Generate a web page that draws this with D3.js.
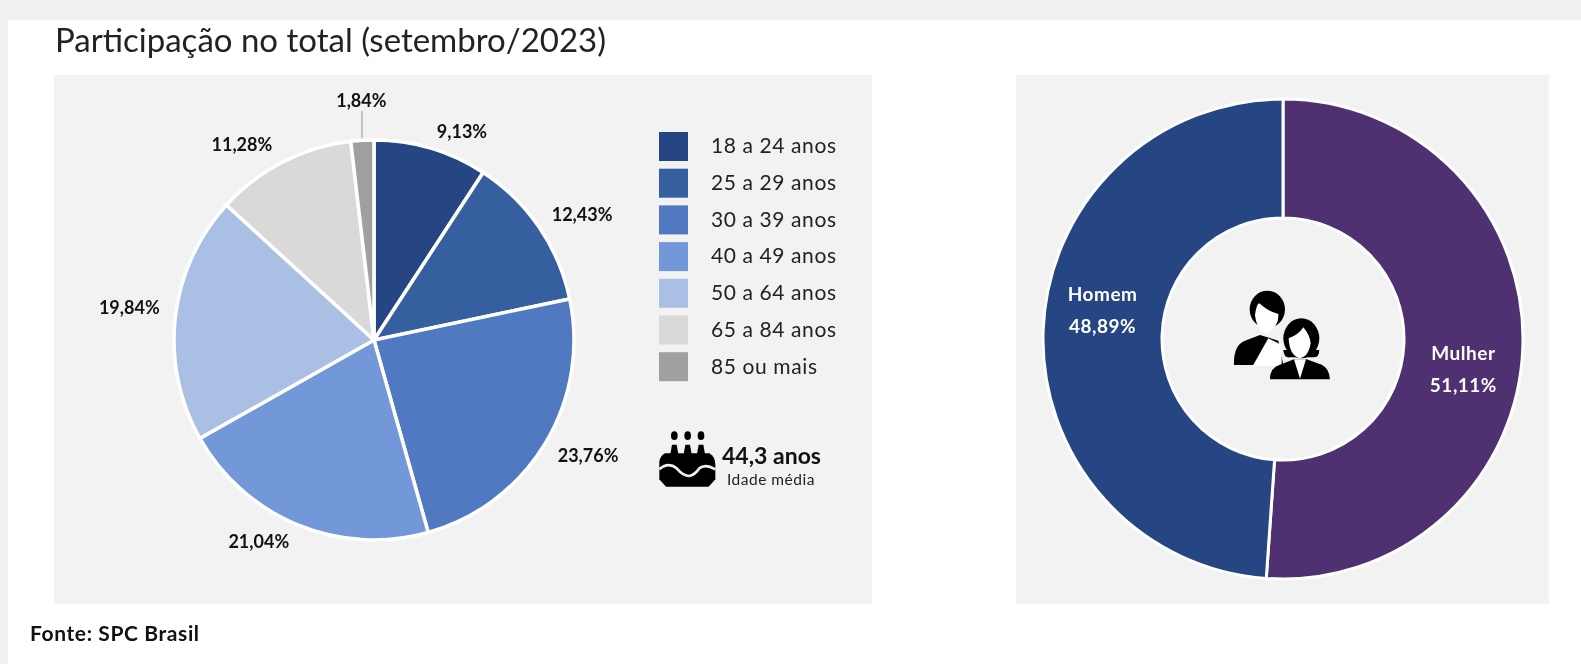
<!DOCTYPE html>
<html lang="pt">
<head>
  <meta charset="UTF-8" />
  <title>Participação no total (setembro/2023)</title>
  <style>
    body { margin: 0; background: #f1f1f1; font-family: Lato, sans-serif; overflow: hidden; }
    svg { display: block; filter: blur(0.45px); }
    text { fill: #111; }
    .lbl { font-size: 18px; font-weight: 700; text-anchor: middle; dominant-baseline: middle; }
    .sex { font-size: 19px; letter-spacing: 0.5px; }
    .leg { font-size: 21px; letter-spacing: 0.6px; fill: #222; dominant-baseline: middle; }
  </style>
</head>
<body>
  <svg width="1581" height="664"></svg>
  <script src="https://cdnjs.cloudflare.com/ajax/libs/d3/7.8.5/d3.min.js"></script>
  <script>
    // values
    const ageGroups = ["18 a 24 anos", "25 a 29 anos", "30 a 39 anos", "40 a 49 anos", "50 a 64 anos", "65 a 84 anos", "85 ou mais"];
    const ageShares = [9.13, 12.43, 23.76, 21.04, 19.84, 11.28, 1.84];
    const ageColors = ["#254583", "#355f9f", "#5079c1", "#7298d9", "#a9bfe4", "#d9d9d9", "#a0a0a0"];
    const sexGroups = ["Mulher", "Homem"];
    const sexShares = [51.11, 48.89];
    const sexColors = ["#4f3070", "#254583"];

    const fmt = v => v.toFixed(2).replace(".", ",") + "%";
    const svg = d3.select("svg");

    // white card and the two grey panels
    svg.append("rect").attr("x", 8).attr("y", 20).attr("width", 1573).attr("height", 644).attr("fill", "#fff");
    svg.append("rect").attr("x", 54).attr("y", 75).attr("width", 818).attr("height", 529).attr("fill", "#f2f2f2");
    svg.append("rect").attr("x", 1016).attr("y", 75).attr("width", 533).attr("height", 529).attr("fill", "#f2f2f2");

    svg.append("text").attr("x", 55).attr("y", 52).style("font-size", "33px").style("fill", "#222")
      .text("Participação no total (setembro/2023)");
    svg.append("text").attr("x", 30).attr("y", 641).style("font-size", "21px").style("font-weight", 700)
      .style("letter-spacing", "0.6px").text("Fonte: SPC Brasil");

    // pie
    const pieR = 200;
    const pieG = svg.append("g").attr("transform", "translate(374,340)");
    const pie = d3.pie().sort(null);
    const arc = d3.arc().innerRadius(0).outerRadius(pieR);
    const ageArcs = pie(ageShares);

    pieG.selectAll("path").data(ageArcs).join("path")
      .attr("d", arc)
      .attr("fill", (d, i) => ageColors[i])
      .attr("stroke", "#fff")
      .attr("stroke-width", 3.5);

    // label nudges from the slice's outer edge, same order as ageShares
    const labelNudge = [[31, -15], [43, -11], [43, 14], [-39, 18], [-46, -8], [-41, -16], [-1, -38]];
    pieG.selectAll("text").data(ageArcs).join("text")
      .attr("class", "lbl")
      .attr("x", (d, i) => pieR * Math.sin((d.startAngle + d.endAngle) / 2) + labelNudge[i][0])
      .attr("y", (d, i) => -pieR * Math.cos((d.startAngle + d.endAngle) / 2) + labelNudge[i][1])
      .text(d => fmt(d.data));

    // leader for the small slice
    svg.append("line").attr("x1", 362).attr("x2", 362).attr("y1", 111).attr("y2", 138)
      .attr("stroke", "#a6a6a6").attr("stroke-width", 1.2);

    // legend
    const legendY = d3.scaleBand().domain(ageGroups).range([132, 132 + 36.7 * ageGroups.length]);
    const legend = svg.append("g").selectAll("g").data(ageGroups).join("g")
      .attr("transform", d => `translate(659,${legendY(d)})`);
    legend.append("rect").attr("width", 29).attr("height", 29).attr("fill", (d, i) => ageColors[i]);
    legend.append("text").attr("class", "leg").attr("x", 52).attr("y", 16).text(d => d);

    // average age, cake icon (drawn in 3x units)
    const cake = svg.append("g").attr("transform", "translate(640,410) scale(0.3333)");
    [103, 143, 183].forEach(x => {
      cake.append("ellipse").attr("cx", x).attr("cy", 77).attr("rx", 10).attr("ry", 13);
      cake.append("path").attr("d", `M${x - 12} 132 L${x - 7} 104 L${x + 7} 104 L${x + 12} 132 Z`);
    });
    cake.append("path").attr("d", "M75 130 H208 Q226 140 226 165 L226 208 L206 230 H78 L58 208 L58 155 Q60 138 75 130 Z");
    cake.append("path").attr("d", "M58 178 Q85 155 110 175 Q130 198 148 198 Q165 195 178 175 Q195 160 226 178")
      .attr("fill", "none").attr("stroke", "#f2f2f2").attr("stroke-width", 8);

    svg.append("text").attr("x", 722).attr("y", 464).style("font-size", "23px").style("font-weight", 700).text("44,3 anos");
    svg.append("text").attr("x", 727).attr("y", 485).style("font-size", "15.5px").style("letter-spacing", "0.5px")
      .style("fill", "#222").text("Idade média");

    // donut
    const donutG = svg.append("g").attr("transform", "translate(1283,339)");
    const donutArc = d3.arc().innerRadius(121).outerRadius(240);
    const sexArcs = pie(sexShares);
    donutG.selectAll("path").data(sexArcs).join("path")
      .attr("d", donutArc)
      .attr("fill", (d, i) => sexColors[i])
      .attr("stroke", "#fff")
      .attr("stroke-width", 3);

    // Mulher sits lower than the centroid, Homem higher
    const sexNudge = [[0, 26], [0, -21]];
    const sexLabels = donutG.selectAll("g").data(sexArcs).join("g")
      .attr("transform", (d, i) => {
        const c = donutArc.centroid(d);
        return `translate(${c[0] + sexNudge[i][0]},${c[1] + sexNudge[i][1]})`;
      });
    sexLabels.append("text").attr("class", "lbl sex").attr("y", -16).style("fill", "#fff").text((d, i) => sexGroups[i]);
    sexLabels.append("text").attr("class", "lbl sex").attr("y", 16).style("fill", "#fff").text(d => fmt(d.data));

    // people icon in the hole (drawn in 3x units)
    const people = svg.append("g").attr("transform", "translate(1200,270) scale(0.3333)");
    people.append("path").attr("d", "M102 285 Q100 225 135 212 L180 195 L235 212 L250 285 Z");
    people.append("path").attr("d", "M158 288 L205 205 L245 225 L245 288 Z").attr("fill", "#fff");
    people.append("ellipse").attr("cx", 202).attr("cy", 118).attr("rx", 53).attr("ry", 56);
    people.append("path").attr("d", "M165 135 Q170 100 178 100 Q205 125 235 132 Q238 170 200 190 Q170 180 165 135 Z").attr("fill", "#fff");
    people.append("path").attr("d", "M210 328 Q210 292 240 284 L282 268 L320 268 L365 284 Q388 295 390 328 Z");
    people.append("path").attr("d", "M282 268 L300 326 L318 268 Z").attr("fill", "#fff");
    people.append("ellipse").attr("cx", 304).attr("cy", 205).attr("rx", 54).attr("ry", 60);
    people.append("path").attr("d", "M250 240 Q252 265 270 262 L340 262 Q358 262 358 240 Z");
    people.append("path").attr("d", "M266 205 Q295 195 310 172 Q330 195 332 220 Q325 262 298 265 Q268 255 266 205 Z").attr("fill", "#fff");
  </script>
</body>
</html>
